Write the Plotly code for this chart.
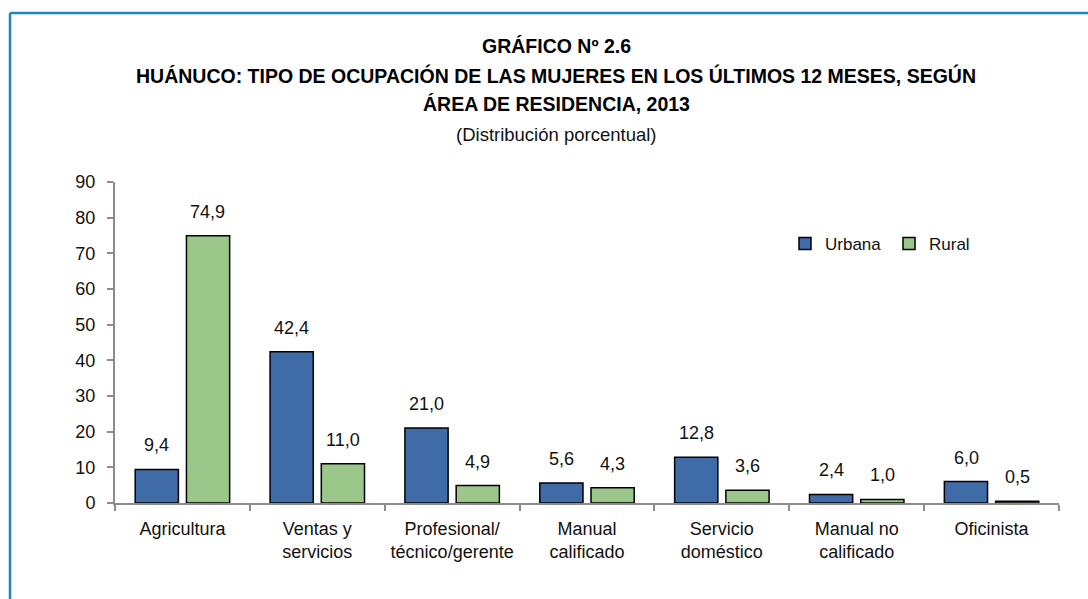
import plotly.graph_objects as go

categories = ["Agricultura", "Ventas y<br>servicios", "Profesional/<br>técnico/gerente",
              "Manual<br>calificado", "Servicio<br>doméstico", "Manual no<br>calificado", "Oficinista"]
urbana = [9.4, 42.4, 21.0, 5.6, 12.8, 2.4, 6.0]
rural = [74.9, 11.0, 4.9, 4.3, 3.6, 1.0, 0.5]
y_ticks = [0, 10, 20, 30, 40, 50, 60, 70, 80, 90]

title_lines = ["GRÁFICO Nº 2.6",
               "HUÁNUCO: TIPO DE OCUPACIÓN DE LAS MUJERES EN LOS ÚLTIMOS 12 MESES, SEGÚN",
               "ÁREA DE RESIDENCIA, 2013"]
subtitle = "(Distribución porcentual)"

FONT = "Liberation Sans Narrow, Arial Narrow, Liberation Sans, Arial, sans-serif"
BLUE = "#3F6BA6"
GREEN = "#9BC78A"

W, H = 1088, 599
L, R, T, B = 115, 29, 182, 96
pw, ph = W - L - R, H - T - B

def px2paper_x(px):
    return (px - L) / pw

def px2paper_y(py):
    return (H - B - py) / ph

fig = go.Figure()
fig.add_trace(go.Bar(name="Urbana", x=categories, y=urbana,
                     marker=dict(color=BLUE, line=dict(color="black", width=1.5))))
fig.add_trace(go.Bar(name="Rural", x=categories, y=rural,
                     marker=dict(color=GREEN, line=dict(color="black", width=1.5))))

annotations = []
for vals, shift in ((urbana, -25.5), (rural, 25.5)):
    for c, v in zip(categories, vals):
        annotations.append(dict(x=c, y=v, xref="x", yref="y", text=f"{v:.1f}".replace(".", ","),
                                showarrow=False, xshift=shift, yanchor="bottom", yshift=12,
                                font=dict(family=FONT, size=18, color="#111")))

ys = [46, 76, 104]
for t, yy in zip(title_lines, ys):
    annotations.append(dict(x=px2paper_x(556), y=px2paper_y(yy), xref="paper", yref="paper",
                            text=f"<b>{t}</b>", showarrow=False, yanchor="middle", xanchor="center",
                            font=dict(family=FONT, size=19.5, color="#000")))
annotations.append(dict(x=px2paper_x(556), y=px2paper_y(134), xref="paper", yref="paper",
                        text=subtitle, showarrow=False, yanchor="middle", xanchor="center",
                        font=dict(family=FONT, size=18.5, color="#111")))

frame_x = px2paper_x(10)
frame_y = px2paper_y(13)
shapes = [
    dict(type="line", xref="paper", yref="paper", x0=frame_x, x1=frame_x, y0=-2, y1=frame_y,
         line=dict(color="#1C87C2", width=2.5)),
    dict(type="line", xref="paper", yref="paper", x0=frame_x, x1=3, y0=frame_y, y1=frame_y,
         line=dict(color="#1C87C2", width=2.5)),
]

fig.update_layout(
    width=W, height=H,
    margin=dict(l=L, r=R, t=T, b=B, pad=0),
    paper_bgcolor="white", plot_bgcolor="white",
    barmode="group", bargap=0.24, bargroupgap=0.157,
    font=dict(family=FONT, size=18, color="#111"),
    annotations=annotations, shapes=shapes,
    showlegend=True,
    legend=dict(orientation="h", x=px2paper_x(785), y=px2paper_y(244), xanchor="left", yanchor="middle",
                font=dict(family=FONT, size=17, color="#111"), entrywidth=59, entrywidthmode="pixels",
                bgcolor="rgba(0,0,0,0)"),
)
fig.update_yaxes(range=[0, 90], tickvals=y_ticks, showgrid=False, zeroline=False,
                 showline=True, linecolor="#8C8C8C", linewidth=2,
                 ticks="outside", ticklen=6, tickcolor="#8C8C8C", tickwidth=2,
                 ticklabelstandoff=8, tickfont=dict(family=FONT, size=18, color="#111"))
fig.update_xaxes(showgrid=False, showline=True, linecolor="#8C8C8C", linewidth=2,
                 ticks="outside", ticklen=6, tickcolor="#8C8C8C", tickwidth=2,
                 tickson="boundaries", ticklabelstandoff=8,
                 tickfont=dict(family=FONT, size=18, color="#111"))

fig.write_html("out.html", config={"displayModeBar": False},
               post_script="document.body.style.margin='0';")
